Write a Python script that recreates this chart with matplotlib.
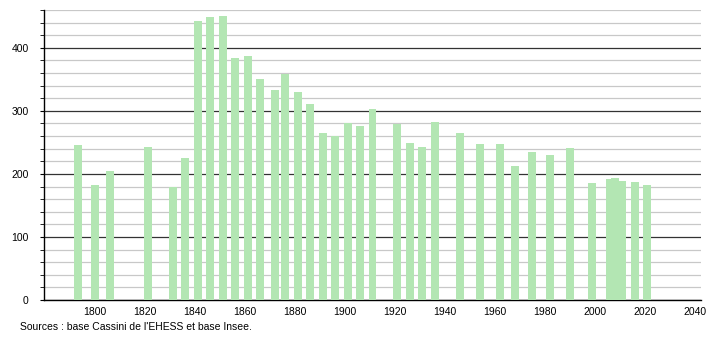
import numpy as np
import matplotlib.pyplot as plt
from matplotlib.ticker import MultipleLocator

plt.rcParams['font.family'] = ['Liberation Sans', 'DejaVu Sans']

# census years and population
years = [1793, 1800, 1806, 1821, 1831, 1836, 1841, 1846, 1851, 1856, 1861, 1866,
         1872, 1876, 1881, 1886, 1891, 1896, 1901, 1906, 1911, 1921, 1926, 1931,
         1936, 1946, 1954, 1962, 1968, 1975, 1982, 1990, 1999, 2006, 2008, 2011,
         2016, 2021]
pop = [246, 183, 205, 242, 179, 225, 443, 449, 451, 384, 387, 351,
       333, 359, 330, 311, 265, 260, 281, 276, 303, 279, 249, 243,
       283, 265, 248, 248, 213, 235, 230, 241, 186, 192, 193, 189,
       187, 183]
xticks = list(range(1800, 2041, 20))

fig = plt.figure(figsize=(7.1, 3.4), dpi=100)
ax = fig.add_axes([44 / 710, 40 / 340, 657 / 710, 290 / 340])

ax.bar(years, pop, width=3.2, color='#b3e6b3', zorder=3)

ax.set_xlim(1779.5, 2042.5)
ax.set_ylim(0, 460)
ax.set_xticks(xticks)
ax.yaxis.set_major_locator(MultipleLocator(100))
ax.yaxis.set_minor_locator(MultipleLocator(20))
ax.grid(axis='y', which='minor', color='#c8c8c8', linewidth=0.9, zorder=1)
ax.grid(axis='y', which='major', color='#333333', linewidth=0.9, zorder=2)

for s in ['top', 'right']:
    ax.spines[s].set_visible(False)
ax.spines['left'].set_linewidth(1)
ax.spines['bottom'].set_linewidth(1)
ax.tick_params(axis='x', length=0, labelsize=7.5, pad=5)
ax.tick_params(axis='y', which='both', length=3, labelsize=7.5, pad=8)

fig.text(20 / 710, 1 - 327 / 340, "Sources : base Cassini de l'EHESS et base Insee.",
         fontsize=7.5, va='center', ha='left')

fig.savefig('out.png', dpi=100)
